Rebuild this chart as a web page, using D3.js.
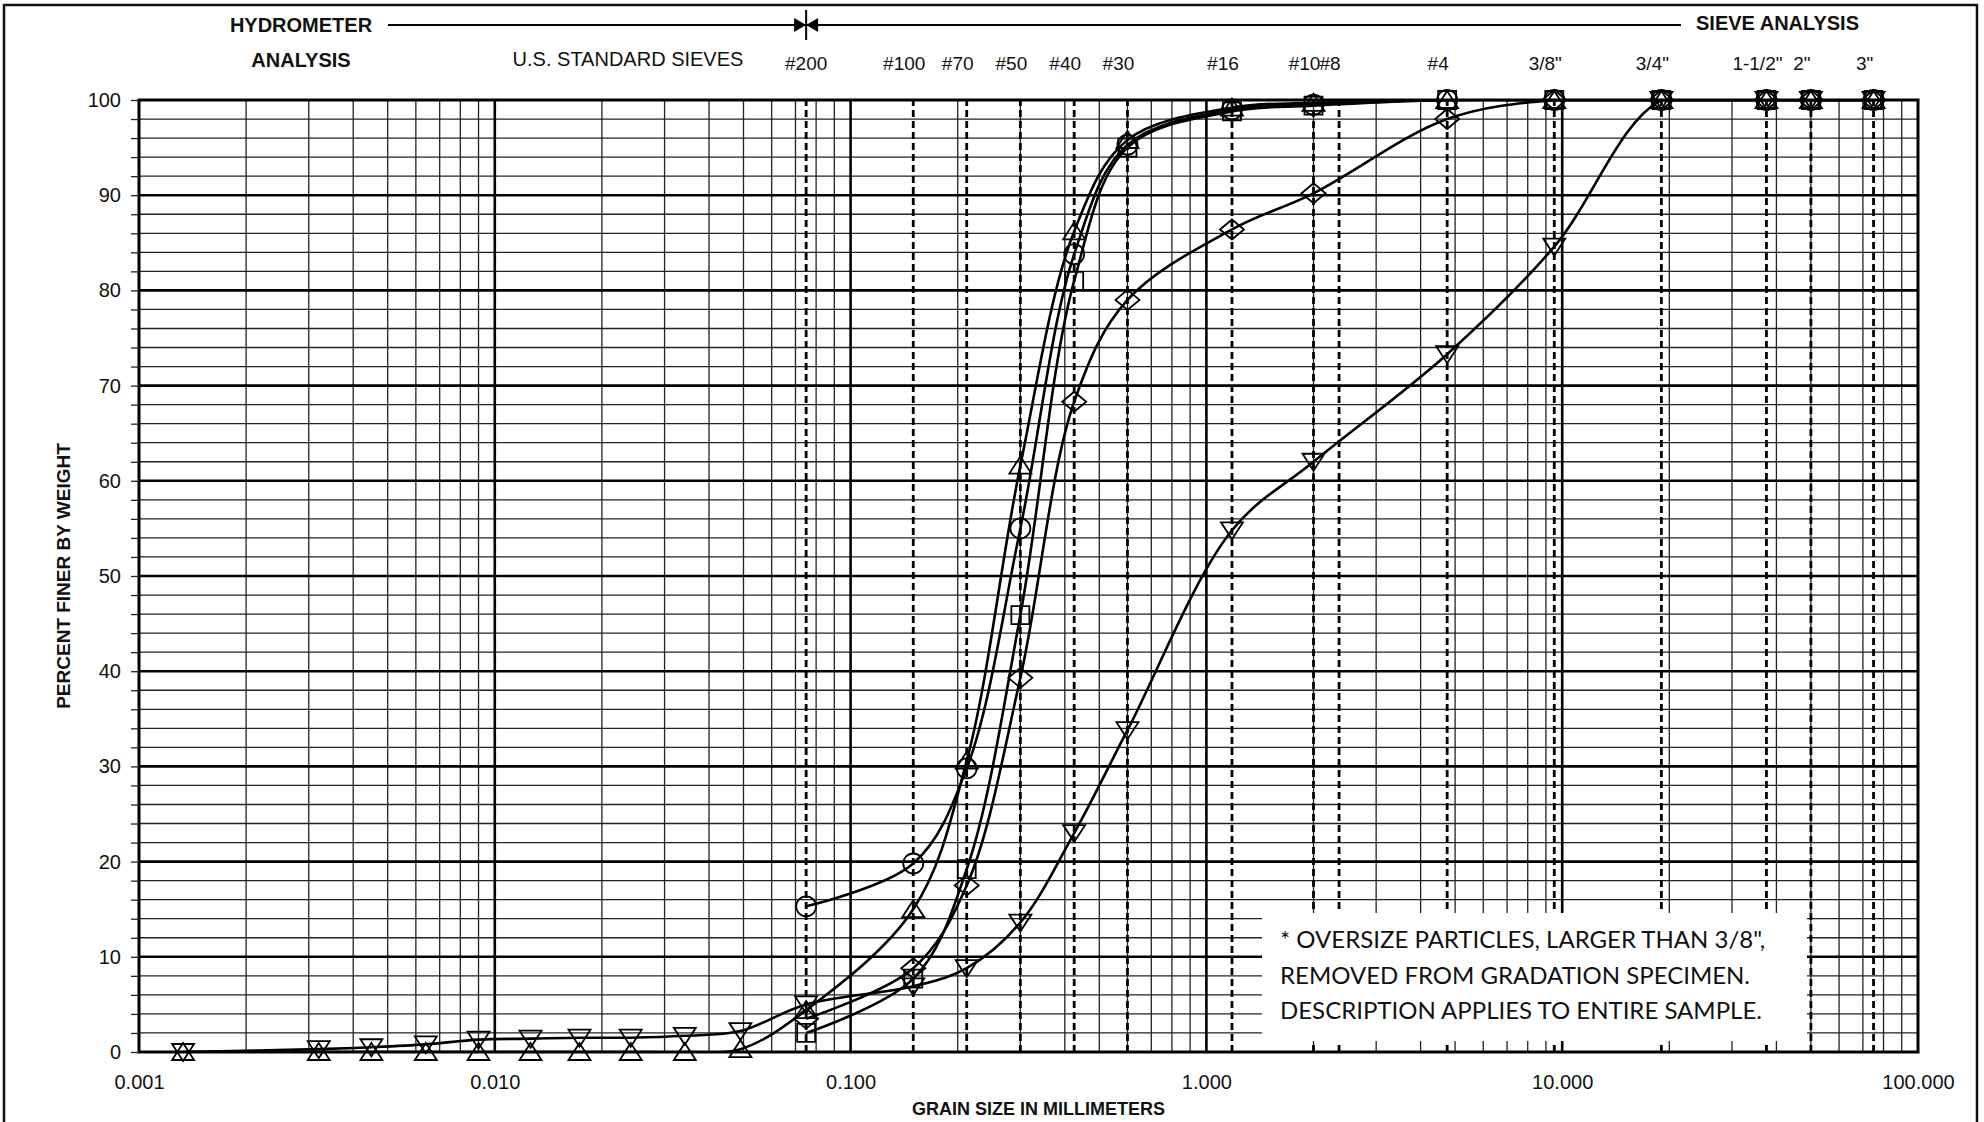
<!DOCTYPE html>
<html>
<head>
<meta charset="utf-8">
<script src="https://cdn.jsdelivr.net/npm/d3@7"></script>
<style>
  body { margin: 0; background: #fff; }
  svg { display: block; }
  text { font-family: "Liberation Sans", Arial, Helvetica, sans-serif; fill: #111; }
</style>
</head>
<body>
<div id="chart"></div>
<script>
// grain sizes (mm)
const hydroSizes = [0.00133, 0.0032, 0.0045, 0.0064, 0.009, 0.0126, 0.0173, 0.0241, 0.0342, 0.049];
const sieveSizes = [0.075, 0.15, 0.212, 0.3, 0.425, 0.6, 1.18, 2.0, 4.75, 9.5, 19.0, 37.5, 50.0, 75.0];

// percent finer, one list per specimen
const circlePct  = [15.3, 19.8, 29.8, 55.0, 83.8, 95.3, 99.0, 99.5, 100, 100, 100, 100, 100, 100];
const squarePct  = [2.0, 7.7, 19.2, 45.9, 81.0, 95.0, 98.8, 99.4, 100, 100, 100, 100, 100, 100];
const triUpHydro = [0, 0, 0, 0, 0, 0, 0, 0, 0, 0.3];
const triUpPct   = [4.4, 15.0, 30.6, 61.6, 86.2, 95.8, 99.2, 99.7, 100, 100, 100, 100, 100, 100];
const diamondPct = [3.5, 8.8, 17.5, 39.3, 68.3, 79.0, 86.4, 90.2, 98.0, 100, 100, 100, 100, 100];
const triDownHydro = [0, 0.3, 0.5, 0.8, 1.3, 1.4, 1.5, 1.5, 1.7, 2.2];
const triDownPct   = [5.0, 6.9, 8.8, 13.6, 23.0, 33.8, 54.8, 62.0, 73.3, 84.6, 100, 100, 100, 100];

// U.S. standard sieve openings (mm) and their names
const sieveLineSizes = [0.075, 0.15, 0.212, 0.3, 0.425, 0.6, 1.18, 2.0, 2.36, 4.75, 9.5, 19.0, 37.5, 50.0, 75.0];
const sieveLabels = ['#200', '#100', '#70', '#50', '#40', '#30', '#16', '#10', '#8', '#4', '3/8"', '3/4"', '1-1/2"', '2"', '3"'];

const xDecades = [0.001, 0.01, 0.1, 1, 10, 100];
const yTicks = d3.range(0, 101, 2);

const noteLines = [
  '* OVERSIZE PARTICLES, LARGER THAN 3/8",',
  'REMOVED FROM GRADATION SPECIMEN.',
  'DESCRIPTION APPLIES TO ENTIRE SAMPLE.'
];

var attrs = {
  svgWidth: 1984,
  svgHeight: 1122,
  plotLeft: 139,
  plotRight: 1918,
  plotTop: 100,
  plotBottom: 1052,
  curveWidth: 2.6,
  majorWidth: 2.6,
  minorWidth: 1.3
};

var svg = d3.select('#chart').append('svg')
  .attr('width', attrs.svgWidth)
  .attr('height', attrs.svgHeight);

svg.append('rect').attr('width', attrs.svgWidth).attr('height', attrs.svgHeight).attr('fill', '#fff');

// outer frame
svg.append('rect')
  .attr('x', 4).attr('y', 5)
  .attr('width', 1973).attr('height', 1130)
  .attr('fill', 'none').attr('stroke', '#111').attr('stroke-width', 2.5);

var x = d3.scaleLog().domain([0.001, 100]).range([attrs.plotLeft, attrs.plotRight]);
var y = d3.scaleLinear().domain([0, 100]).range([attrs.plotBottom, attrs.plotTop]);

var grid = svg.append('g');

// minor log gridlines
var minorX = [];
xDecades.slice(0, -1).forEach(function (d) {
  for (var k = 2; k <= 9; k++) minorX.push(d * k);
});
grid.selectAll('.vminor').data(minorX).enter().append('line')
  .attr('x1', d => x(d)).attr('x2', d => x(d))
  .attr('y1', y(0)).attr('y2', y(100))
  .attr('stroke', '#222').attr('stroke-width', attrs.minorWidth);

grid.selectAll('.hminor').data(yTicks.filter(d => d % 10 !== 0)).enter().append('line')
  .attr('x1', x(0.001)).attr('x2', x(100))
  .attr('y1', d => y(d)).attr('y2', d => y(d))
  .attr('stroke', '#222').attr('stroke-width', attrs.minorWidth);

// major gridlines
grid.selectAll('.vmajor').data(xDecades.slice(1, -1)).enter().append('line')
  .attr('x1', d => x(d)).attr('x2', d => x(d))
  .attr('y1', y(0)).attr('y2', y(100))
  .attr('stroke', '#000').attr('stroke-width', attrs.majorWidth);

grid.selectAll('.hmajor').data(d3.range(10, 100, 10)).enter().append('line')
  .attr('x1', x(0.001)).attr('x2', x(100))
  .attr('y1', d => y(d)).attr('y2', d => y(d))
  .attr('stroke', '#000').attr('stroke-width', attrs.majorWidth);

// dashed sieve lines
grid.selectAll('.sieve').data(sieveLineSizes).enter().append('line')
  .attr('x1', d => x(d)).attr('x2', d => x(d))
  .attr('y1', y(0)).attr('y2', y(100))
  .attr('stroke', '#000').attr('stroke-width', 2.8)
  .attr('stroke-dasharray', '7,4');

// note box sits on top of the grid
var note = svg.append('g');
note.append('rect')
  .attr('x', 1262).attr('y', 913)
  .attr('width', 545).attr('height', 128)
  .attr('fill', '#fff');
note.selectAll('text').data(noteLines).enter().append('text')
  .attr('x', 1280)
  .attr('y', (d, i) => 948 + i * 35.5)
  .style('font-family', 'Lato, "Open Sans", sans-serif')
  .style('font-size', '24px')
  .text(d => d);

// series
var series = [
  { shape: 'circle', sizes: sieveSizes, pct: circlePct },
  { shape: 'square', sizes: sieveSizes, pct: squarePct },
  { shape: 'triUp', sizes: hydroSizes.concat(sieveSizes), pct: triUpHydro.concat(triUpPct) },
  { shape: 'diamond', sizes: sieveSizes, pct: diamondPct },
  { shape: 'triDown', sizes: hydroSizes.concat(sieveSizes), pct: triDownHydro.concat(triDownPct) }
];
series.forEach(function (s) {
  s.points = s.sizes.map((d, i) => ({ size: d, pct: s.pct[i] }));
});

svg.append('clipPath').attr('id', 'plot-clip')
  .append('rect')
  .attr('x', attrs.plotLeft).attr('y', attrs.plotTop)
  .attr('width', attrs.plotRight - attrs.plotLeft)
  .attr('height', attrs.plotBottom - attrs.plotTop);

var line = d3.line()
  .x(d => x(d.size))
  .y(d => y(d.pct))
  .curve(d3.curveCatmullRom.alpha(0.5));

svg.append('g').attr('clip-path', 'url(#plot-clip)')
  .selectAll('path').data(series).enter().append('path')
  .attr('d', d => line(d.points))
  .attr('fill', 'none')
  .attr('stroke', '#000')
  .attr('stroke-width', attrs.curveWidth);

var shapes = {
  circle: 'M10,0A10,10 0 1,1 -10,0A10,10 0 1,1 10,0Z',
  square: 'M-9,-9H9V9H-9Z',
  triUp: 'M0,-9L11,8L-11,8Z',
  triDown: 'M0,9L11,-8L-11,-8Z',
  diamond: 'M0,-10L12,0L0,10L-12,0Z'
};

series.forEach(function (s) {
  svg.append('g').selectAll('path').data(s.points).enter().append('path')
    .attr('transform', d => 'translate(' + x(d.size) + ',' + y(d.pct) + ')')
    .attr('d', shapes[s.shape])
    .attr('fill', 'none')
    .attr('stroke', '#000')
    .attr('stroke-width', 1.8);
});

// plot border
svg.append('rect')
  .attr('x', attrs.plotLeft).attr('y', attrs.plotTop)
  .attr('width', attrs.plotRight - attrs.plotLeft)
  .attr('height', attrs.plotBottom - attrs.plotTop)
  .attr('fill', 'none').attr('stroke', '#000').attr('stroke-width', 3);

// axes
var yAxis = svg.append('g')
  .attr('transform', 'translate(' + attrs.plotLeft + ',0)')
  .call(d3.axisLeft(y).tickValues(yTicks).tickSize(8).tickPadding(10)
    .tickFormat(d => d % 10 === 0 ? d : ''));
yAxis.select('.domain').remove();
yAxis.selectAll('line').attr('stroke', '#222').attr('stroke-width', 1.3);
yAxis.selectAll('text').style('font-size', '20px').attr('fill', '#111');

var xAxis = svg.append('g')
  .attr('transform', 'translate(0,' + attrs.plotBottom + ')')
  .call(d3.axisBottom(x).tickValues(xDecades).tickSize(0).tickPadding(23)
    .tickFormat(d3.format('.3f')));
xAxis.select('.domain').remove();
xAxis.selectAll('text').style('font-size', '20px').attr('fill', '#111');

// axis titles
svg.append('text')
  .attr('transform', 'translate(70,' + (attrs.plotTop + attrs.plotBottom) / 2 + ') rotate(-90)')
  .attr('text-anchor', 'middle')
  .style('font-size', '19px').style('font-weight', 'bold')
  .text('PERCENT FINER BY WEIGHT');

svg.append('text')
  .attr('x', (attrs.plotLeft + attrs.plotRight) / 2 + 10)
  .attr('y', 1115)
  .attr('text-anchor', 'middle')
  .style('font-size', '18px').style('font-weight', 'bold')
  .text('GRAIN SIZE IN MILLIMETERS');

// header: hydrometer / sieve analysis split at #200
var head = svg.append('g');
head.append('text').attr('x', 301).attr('y', 32).attr('text-anchor', 'middle')
  .style('font-size', '20px').style('font-weight', 'bold').text('HYDROMETER');
head.append('text').attr('x', 301).attr('y', 67).attr('text-anchor', 'middle')
  .style('font-size', '20px').style('font-weight', 'bold').text('ANALYSIS');
head.append('text').attr('x', 628).attr('y', 66).attr('text-anchor', 'middle')
  .style('font-size', '20px').text('U.S. STANDARD SIEVES');
head.append('text').attr('x', 1696).attr('y', 30)
  .style('font-size', '20px').style('font-weight', 'bold').text('SIEVE ANALYSIS');

var xs = x(0.075);
head.append('line').attr('x1', 388).attr('x2', 1681).attr('y1', 25).attr('y2', 25)
  .attr('stroke', '#000').attr('stroke-width', 1.8);
head.append('line').attr('x1', xs).attr('x2', xs).attr('y1', 10).attr('y2', 40)
  .attr('stroke', '#000').attr('stroke-width', 2);
head.append('path').attr('d', 'M' + (xs - 12) + ',18L' + xs + ',25L' + (xs - 12) + ',32Z').attr('fill', '#000');
head.append('path').attr('d', 'M' + (xs + 12) + ',18L' + xs + ',25L' + (xs + 12) + ',32Z').attr('fill', '#000');

// sieve names sit a little left of their lines, except #200 at the divider
head.selectAll('.sieve-label').data(sieveLabels).enter().append('text')
  .attr('x', (d, i) => x(sieveLineSizes[i]))
  .attr('dx', (d, i) => i === 0 ? 0 : -9)
  .attr('y', 70)
  .attr('text-anchor', 'middle')
  .style('font-size', '19px')
  .text(d => d);
</script>
</body>
</html>
